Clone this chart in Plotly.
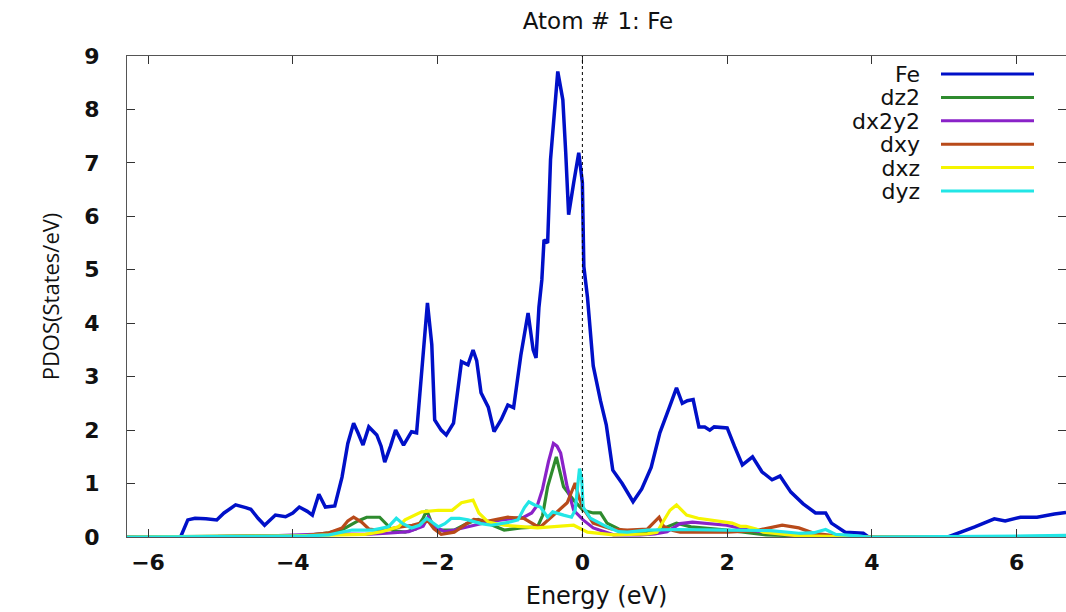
import plotly.graph_objects as go

# ---------------- data ----------------
fe_e = [-6.29, -5.55, -5.45, -5.35, -5.2, -5.05, -4.95, -4.79, -4.65, -4.58, -4.48, -4.39,
        -4.24, -4.10, -4.0, -3.91, -3.8, -3.73, -3.64, -3.55, -3.42, -3.32, -3.24, -3.16,
        -3.10, -3.03, -2.95, -2.84, -2.78, -2.73, -2.65, -2.58, -2.47, -2.36, -2.29, -2.22,
        -2.14, -2.08, -2.04, -1.95, -1.88, -1.78, -1.72, -1.67, -1.58, -1.51, -1.46, -1.40,
        -1.30, -1.22, -1.12, -1.03, -0.95, -0.85, -0.75, -0.68, -0.64, -0.60, -0.56, -0.53,
        -0.48, -0.44, -0.34, -0.27, -0.23, -0.19, -0.12, -0.05, 0.0, 0.02, 0.07, 0.15,
        0.25, 0.33, 0.42, 0.55, 0.70, 0.82, 0.95, 1.07, 1.20, 1.30, 1.38, 1.45,
        1.53, 1.61, 1.69, 1.76, 1.82, 2.0, 2.1, 2.21, 2.35, 2.48, 2.62, 2.73,
        2.88, 3.05, 3.22, 3.36, 3.44, 3.63, 3.88, 3.95, 5.05, 5.25, 5.42, 5.69,
        5.84, 6.05, 6.28, 6.52, 6.68]
fe_v = [0, 0, 0.32, 0.35, 0.34, 0.32, 0.45, 0.60, 0.55, 0.52, 0.35, 0.22,
        0.41, 0.38, 0.45, 0.56, 0.48, 0.41, 0.80, 0.56, 0.58, 1.12, 1.75, 2.13,
        1.95, 1.72, 2.06, 1.91, 1.70, 1.40, 1.70, 2.00, 1.72, 1.97, 1.95, 3.00,
        4.38, 3.60, 2.19, 2.00, 1.91, 2.13, 2.80, 3.28, 3.22, 3.50, 3.30, 2.70,
        2.43, 1.97, 2.20, 2.47, 2.42, 3.40, 4.19, 3.50, 3.35, 4.30, 4.81, 5.56,
        5.50, 7.06, 8.71, 8.18, 7.19, 6.03, 6.63, 7.19, 6.63, 5.06, 4.49, 3.20,
        2.55, 2.10, 1.25, 1.00, 0.66, 0.90, 1.30, 1.95, 2.42, 2.79, 2.50, 2.55,
        2.57, 2.06, 2.06, 2.00, 2.06, 2.04, 1.70, 1.35, 1.50, 1.22, 1.07, 1.14,
        0.84, 0.62, 0.45, 0.45, 0.26, 0.09, 0.07, 0, 0, 0.10, 0.19, 0.34,
        0.30, 0.37, 0.37, 0.43, 0.46]

dz2_e = [-6.29, -4.5, -3.8, -3.5, -3.3, -3.1, -2.98, -2.8, -2.72, -2.62, -2.45, -2.3,
         -2.2, -2.15, -2.08, -2.0, -1.77, -1.6, -1.44, -1.3, -1.08, -0.85, -0.62, -0.55,
         -0.48, -0.36, -0.26, -0.12, 0.01, 0.15, 0.25, 0.34, 0.5, 0.62, 0.9, 1.1,
         1.3, 1.5, 2.0, 2.54, 3.0, 3.95, 6.68]
dz2_v = [0, 0.02, 0.03, 0.08, 0.15, 0.30, 0.37, 0.37, 0.25, 0.12, 0.09, 0.15,
         0.35, 0.50, 0.25, 0.13, 0.13, 0.25, 0.33, 0.25, 0.13, 0.17, 0.19, 0.40,
         0.94, 1.50, 0.94, 0.69, 0.50, 0.45, 0.45, 0.26, 0.15, 0.09, 0.08, 0.15,
         0.26, 0.19, 0.13, 0.04, 0.02, 0, 0.01]

dx2y2_e = [-6.29, -4.5, -3.5, -3.0, -2.7, -2.4, -2.2, -2.13, -2.05, -1.9, -1.77, -1.5,
           -1.3, -1.12, -0.95, -0.81, -0.7, -0.62, -0.55, -0.47, -0.40, -0.35, -0.30, -0.21,
           -0.12, 0.01, 0.15, 0.25, 0.43, 0.8, 1.0, 1.17, 1.35, 1.52, 1.75, 1.99,
           2.3, 2.54, 2.8, 3.09, 6.68]
dx2y2_v = [0, 0.01, 0.06, 0.05, 0.07, 0.10, 0.20, 0.37, 0.20, 0.10, 0.13, 0.22,
           0.28, 0.32, 0.35, 0.37, 0.45, 0.60, 0.90, 1.40, 1.75, 1.70, 1.57, 0.94,
           0.50, 0.32, 0.17, 0.12, 0.04, 0.04, 0.06, 0.10, 0.25, 0.28, 0.25, 0.22,
           0.13, 0.09, 0.04, 0, 0]

dxy_e = [-6.29, -4.5, -3.8, -3.5, -3.32, -3.24, -3.16, -3.05, -2.95, -2.77, -2.55, -2.35,
         -2.13, -2.05, -1.95, -1.77, -1.6, -1.5, -1.3, -1.03, -0.81, -0.65, -0.58, -0.45,
         -0.34, -0.21, -0.10, -0.05, 0.01, 0.10, 0.15, 0.4, 0.62, 0.9, 1.0, 1.06,
         1.12, 1.25, 1.35, 2.0, 2.4, 2.6, 2.76, 2.99, 3.2, 3.5, 3.95, 6.68]
dxy_v = [0, 0.01, 0.03, 0.08, 0.17, 0.30, 0.37, 0.28, 0.15, 0.12, 0.18, 0.22,
         0.30, 0.15, 0.05, 0.09, 0.25, 0.33, 0.30, 0.37, 0.35, 0.22, 0.19, 0.35,
         0.47, 0.64, 1.01, 0.75, 0.54, 0.35, 0.26, 0.15, 0.13, 0.15, 0.30, 0.37,
         0.20, 0.12, 0.09, 0.09, 0.12, 0.18, 0.22, 0.17, 0.07, 0.02, 0, 0]

dxz_e = [-6.29, -4.0, -3.0, -2.77, -2.54, -2.45, -2.22, -1.99, -1.8, -1.67, -1.51, -1.43,
         -1.30, -1.08, -0.62, -0.3, -0.12, 0.07, 0.25, 0.43, 0.9, 1.03, 1.12, 1.21,
         1.30, 1.44, 1.6, 1.76, 2.07, 2.18, 2.26, 2.4, 2.5, 3.0, 3.95, 6.68]
dxz_v = [0, 0.02, 0.05, 0.10, 0.19, 0.32, 0.47, 0.50, 0.50, 0.64, 0.69, 0.45,
         0.28, 0.22, 0.17, 0.20, 0.22, 0.09, 0.06, 0.04, 0.06, 0.09, 0.30, 0.50,
         0.60, 0.41, 0.35, 0.32, 0.26, 0.20, 0.20, 0.15, 0.09, 0.02, 0, 0]

dyz_e = [-6.29, -4.5, -3.8, -3.5, -3.18, -2.9, -2.68, -2.57, -2.48, -2.36, -2.25, -2.15,
         -2.05, -1.99, -1.9, -1.81, -1.7, -1.58, -1.4, -1.26, -1.0, -0.89, -0.80, -0.74,
         -0.66, -0.58, -0.48, -0.41, -0.26, -0.15, -0.10, -0.07, -0.04, -0.01, 0.01, 0.11,
         0.34, 0.5, 0.62, 0.9, 1.3, 2.0, 2.6, 2.99, 3.2, 3.36, 3.5, 3.8,
         3.95, 5.5, 6.68]
dyz_v = [0, 0.01, 0.02, 0.04, 0.13, 0.13, 0.19, 0.35, 0.25, 0.17, 0.22, 0.35,
         0.25, 0.19, 0.25, 0.35, 0.35, 0.32, 0.25, 0.22, 0.28, 0.32, 0.55, 0.66,
         0.60, 0.56, 0.37, 0.47, 0.41, 0.37, 0.50, 0.90, 1.28, 1.10, 0.56, 0.35,
         0.19, 0.10, 0.09, 0.13, 0.14, 0.13, 0.12, 0.07, 0.08, 0.14, 0.05, 0.02,
         0, 0.01, 0.03]

series_names = ["Fe", "dz2", "dx2y2", "dxy", "dxz", "dyz"]
series_colors = ["#0010c8", "#2e8b2e", "#8a22c8", "#b84a1a", "#f5f500", "#22e6e6"]
series_e = [fe_e, dz2_e, dx2y2_e, dxy_e, dxz_e, dyz_e]
series_v = [fe_v, dz2_v, dx2y2_v, dxy_v, dxz_v, dyz_v]

x_ticks = [-6, -4, -2, 0, 2, 4, 6]
y_ticks = [0, 1, 2, 3, 4, 5, 6, 7, 8, 9]

# ---------------- figure ----------------
W, H = 1066, 612
ML, MR, MT, MB = 127, 0, 56, 75
PW, PH = W - ML - MR, H - MT - MB

def px(xp):
    return (xp - ML) / PW

def py(yp):
    return (H - MB - yp) / PH

FONT = "DejaVu Sans"
INK = "#111111"

fig = go.Figure()
for name, col, e, v in zip(series_names, series_colors, series_e, series_v):
    fig.add_trace(go.Scatter(x=e, y=v, mode="lines", name=name,
                             line=dict(color=col, width=3.5 if name == "Fe" else 3.2),
                             showlegend=False))

fig.add_vline(x=0, line=dict(color="black", width=1, dash="dot"))

# legend drawn gnuplot-style: labels (one right-aligned block) then sample lines
row0, step = 74, 23.4
rows_y = [row0 + i * step for i in range(len(series_names))]
label_text = "<br>".join("<span style='font-size:22px'>%s</span>" % n for n in series_names)
fig.add_annotation(x=px(922), y=py((rows_y[0] + rows_y[-1]) / 2), xref="paper", yref="paper",
                   text=label_text, align="right",
                   showarrow=False, xanchor="right", yanchor="middle",
                   font=dict(family=FONT, size=18, color=INK))
for yrow, col in zip(rows_y, series_colors):
    fig.add_shape(type="line", xref="paper", yref="paper",
                  x0=px(941), x1=px(1034), y0=py(yrow), y1=py(yrow),
                  line=dict(color=col, width=3))

fig.update_layout(
    width=W, height=H,
    margin=dict(l=ML, r=MR, t=MT, b=MB, autoexpand=False),
    paper_bgcolor="white", plot_bgcolor="white",
    title=dict(text="Atom # 1: Fe", x=px(598), xref="paper", xanchor="center",
               y=1 - 21 / H, yref="container", yanchor="middle",
               font=dict(family=FONT, size=23, color=INK)),
    xaxis=dict(range=[-6.29, 6.68], tickvals=x_ticks, ticks="inside", ticklen=8,
               tickcolor="#333333", showline=True, linecolor="#555555", linewidth=1,
               mirror="ticks", showgrid=False, zeroline=False,
               tickfont=dict(family=FONT, size=22, color=INK, weight="bold"),
               ticklabelstandoff=6,
               title=dict(text="Energy (eV)", standoff=12,
                          font=dict(family=FONT, size=24, color=INK))),
    yaxis=dict(range=[0, 9], tickvals=y_ticks, ticks="inside", ticklen=8,
               tickcolor="#333333", showline=True, linecolor="#555555", linewidth=1,
               mirror="ticks", showgrid=False, zeroline=False,
               tickfont=dict(family=FONT, size=22, color=INK, weight="bold"),
               ticklabelstandoff=22,
               title=dict(text="PDOS(States/eV)", standoff=18,
                          font=dict(family="Open Sans", size=22, color=INK))),
)

fig.write_html("out.html")
